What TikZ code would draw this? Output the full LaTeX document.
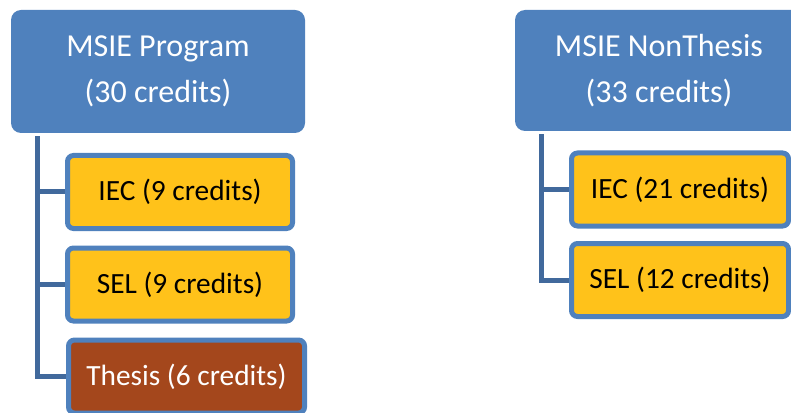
\documentclass[tikz,border=0pt]{standalone}
\usepackage{fontspec}
\setmainfont{Carlito}
\usetikzlibrary{positioning}
\definecolor{headblue}{HTML}{4F81BD}
\definecolor{trunkblue}{HTML}{41699C}
\definecolor{courseyellow}{HTML}{FFC21A}
\definecolor{thesisbrown}{HTML}{A4471C}
\newcommand{\connectchild}[2]{%
  \draw[branch] (#1.south west) ++(27,3) |- (#2.west)}

\begin{document}
\begin{tikzpicture}[x=0.75pt, y=-0.75pt,
    font=\fontsize{24}{35}\selectfont,
    head/.style={rectangle, fill=headblue, text=white, align=center,
      rounded corners=7.5pt, inner sep=0pt},
    course/.style={rectangle, draw=headblue, line width=3.75pt,
      fill=courseyellow, rounded corners=4.5pt, inner sep=0pt,
      minimum height=54.75pt, font=\fontsize{22}{26}\selectfont},
    branch/.style={draw=trunkblue, line width=3.75pt}]
  \clip (0,0) rectangle (791,413);

  % thesis track
  \node[head, minimum width=220.5pt, minimum height=92.25pt]
    (prog) at (158,71.5) {MSIE Program\\(30 credits)};
  \node[course, minimum width=168.75pt] (iec) at (180,192) {IEC (9 credits)};
  \node[course, minimum width=168.75pt] (sel) at (180,284.5) {SEL (9 credits)};
  \node[course, minimum width=177pt, fill=thesisbrown, text=white]
    (thesis) at (186.5,376.5) {Thesis (6 credits)};

  \connectchild{prog}{thesis};
  \connectchild{prog}{sel};
  \connectchild{prog}{iec};

  % non-thesis track
  \node[head, minimum width=216pt, minimum height=90.75pt]
    (nonthesis) at (659,70.5) {MSIE NonThesis\\(33 credits)};
  \node[course, minimum width=162.75pt] (iecn) at (680,189.5) {IEC (21 credits)};
  \node[course, minimum width=162.75pt] (seln) at (680,280) {SEL (12 credits)};

  \connectchild{nonthesis}{seln};
  \connectchild{nonthesis}{iecn};
\end{tikzpicture}
\end{document}
